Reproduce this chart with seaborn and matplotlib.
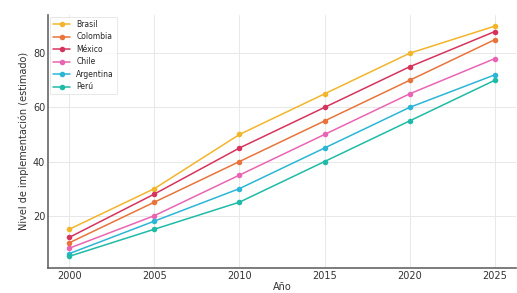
import pandas as pd
import matplotlib.pyplot as plt
import seaborn as sns

years = [2000, 2005, 2010, 2015, 2020, 2025]
brasil = [15, 30, 50, 65, 80, 90]
colombia = [10, 25, 40, 55, 70, 85]
mexico = [12, 28, 45, 60, 75, 88]
chile = [8, 20, 35, 50, 65, 78]
argentina = [6, 18, 30, 45, 60, 72]
peru = [5, 15, 25, 40, 55, 70]

countries = ['Brasil', 'Colombia', 'México', 'Chile', 'Argentina', 'Perú']
series = [brasil, colombia, mexico, chile, argentina, peru]
colors = ['#f2b52b', '#e8743b', '#d6345c', '#e965b3', '#2bb6d6', '#1fbba6']

rows = []
for name, vals in zip(countries, series):
    for y, v in zip(years, vals):
        rows.append({'Año': y, 'valor': v, 'País': name})
df = pd.DataFrame(rows)

sns.set_style('whitegrid')
plt.rcParams['font.family'] = ['DejaVu Sans']

fig = plt.figure(figsize=(5.17, 2.93), dpi=100)
ax = fig.add_axes([0.093, 0.086, 0.905, 0.864])
sns.lineplot(data=df, x='Año', y='valor', hue='País', palette=colors,
             marker='o', markersize=4, markeredgewidth=0, linewidth=1.1, ax=ax)

ax.set_xticks(years)
ax.set_yticks([20, 40, 60, 80])
ax.tick_params(labelsize=7, length=0, pad=2, colors='#333333')
ax.set_xlabel('Año', fontsize=7, color='#333333', labelpad=1)
ax.set_ylabel('Nivel de implementación (estimado)', fontsize=7, color='#333333', labelpad=3)
ax.grid(True, color='#e8e8e8', linewidth=0.7)
for s in ['top', 'right']:
    ax.spines[s].set_visible(False)
for s in ['left', 'bottom']:
    ax.spines[s].set_color('#666666')
    ax.spines[s].set_linewidth(1.2)

leg = ax.legend(loc='upper left', fontsize=5.5, frameon=True, title=None,
                borderpad=0.4, labelspacing=0.45, handlelength=2.2,
                borderaxespad=0.3)
leg.get_frame().set_edgecolor('#dddddd')
leg.get_frame().set_linewidth(0.6)

fig.savefig('out.png', dpi=100)
